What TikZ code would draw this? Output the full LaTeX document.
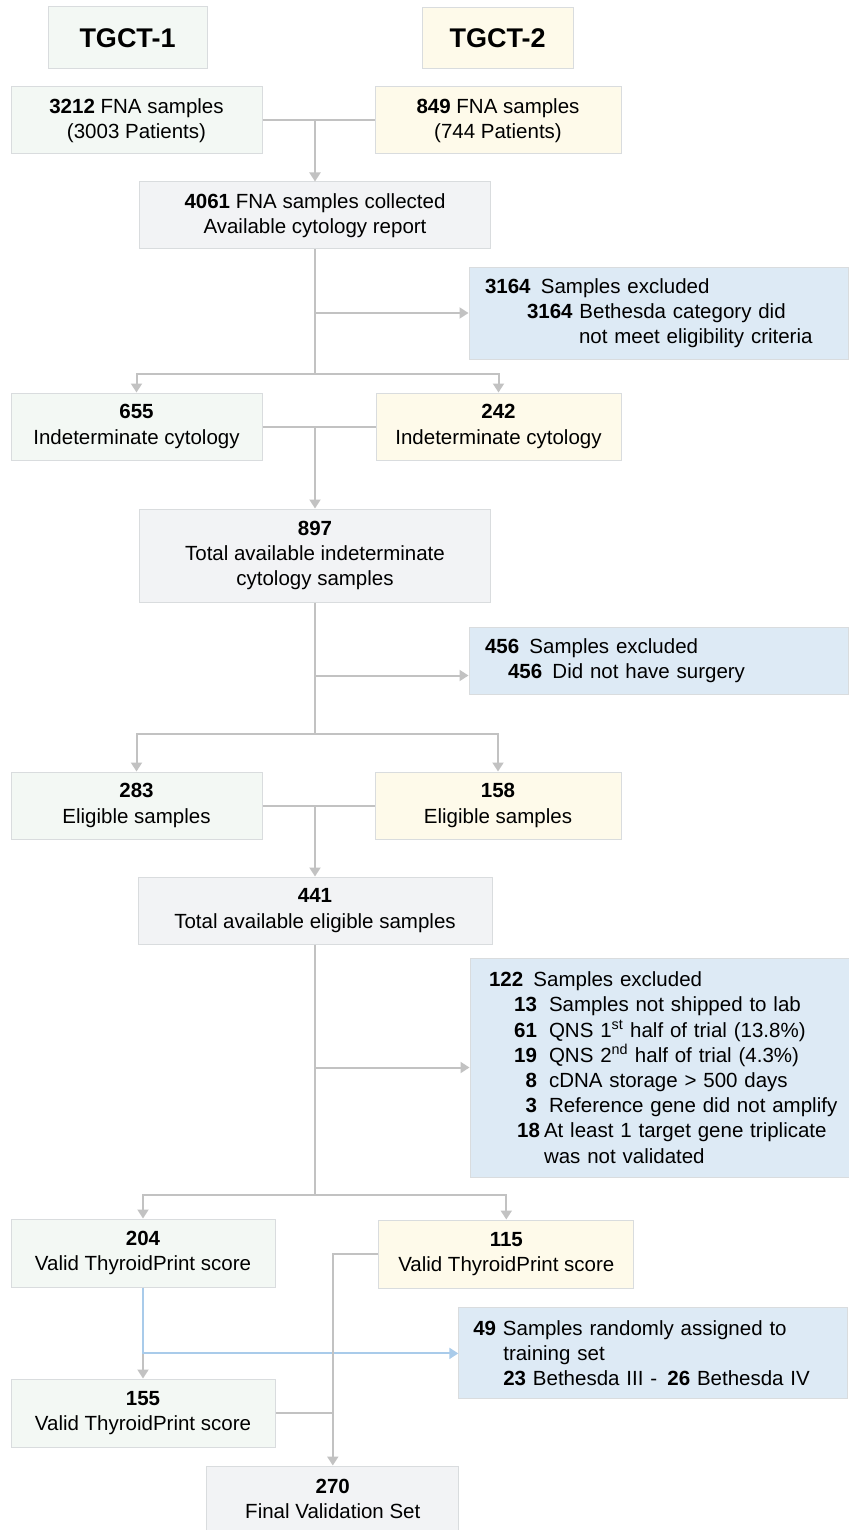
\documentclass[tikz,border=0pt]{standalone}
\usepackage{fontspec}
\setmainfont{Liberation Sans}
\usepackage{tikz}
\usetikzlibrary{arrows.meta,calc,positioning}
\definecolor{grn}{HTML}{F3F8F4}
\definecolor{crm}{HTML}{FEFAEA}
\definecolor{gry}{HTML}{F2F3F5}
\definecolor{blu}{HTML}{DDEAF5}
\definecolor{edge}{HTML}{D9DCDE}
\definecolor{lineg}{HTML}{C2C2C2}
\definecolor{lineb}{HTML}{A9CBEA}

\begin{document}
\begin{tikzpicture}[x=1pt,y=-1pt,
  box/.style={draw=edge,line width=1pt,inner sep=0pt,align=center,font=\fontsize{20.5}{25.2}\selectfont},
  tbox/.style={box,font=\fontsize{27}{30}\selectfont\bfseries},
  xbox/.style={box,fill=blu,align=left,inner xsep=#1},
  con/.style={draw=lineg,line width=2pt},
  arr/.style={con,-{Triangle[width=11pt,length=9pt]}},
  barr/.style={draw=lineb,line width=2pt,-{Triangle[width=11pt,length=9pt]}}]
\useasboundingbox (0,0) rectangle (848,1530);
\node[tbox,fill=grn,minimum width=159,minimum height=62] (t1) at (127.5,38) {TGCT-1};
\node[tbox,fill=crm,minimum width=151,minimum height=61] (t2) at (497.5,38.5) {TGCT-2};
\node[box,fill=grn,minimum width=251,minimum height=67] (a1) at (136.5,120.5) {\textbf{3212} FNA samples\\(3003 Patients)};
\node[box,fill=crm,minimum width=246,minimum height=67] (a2) at (498,120.5) {\textbf{849} FNA samples\\(744 Patients)};
\node[box,fill=gry,minimum width=351,minimum height=67] (m1) at (315,215.5) {\textbf{4061} FNA samples collected\\Available cytology report};
\node[xbox=16pt,text width=347,minimum height=92] (x1) at (658.5,313) {\textbf{3164}\enspace Samples excluded\\\hspace*{42pt}\textbf{3164} Bethesda category did\\\hspace*{94pt}not meet eligibility criteria};
\node[box,fill=grn,minimum width=251,minimum height=67] (b1) at (136.5,426.5) {\textbf{655}\\Indeterminate cytology};
\node[box,fill=crm,minimum width=245,minimum height=67] (b2) at (498.5,426.5) {\textbf{242}\\Indeterminate cytology};
\node[box,fill=gry,minimum width=351,minimum height=93] (m2) at (315,555.5) {\textbf{897}\\Total available indeterminate\\cytology samples};
\node[xbox=16pt,text width=347,minimum height=67] (x2) at (658.5,660.5) {\textbf{456}\enspace Samples excluded\\\hspace*{23pt}\textbf{456}\enspace Did not have surgery};
\node[box,fill=grn,minimum width=251,minimum height=67] (c1) at (136.5,805.5) {\textbf{283}\\Eligible samples};
\node[box,fill=crm,minimum width=246,minimum height=67] (c2) at (498,805.5) {\textbf{158}\\Eligible samples};
\node[box,fill=gry,minimum width=354,minimum height=67] (m3) at (315,910.5) {\textbf{441}\\Total available eligible samples};
\node[xbox=19pt,text width=362,minimum height=219] (x3) at (670,1067.5) {\textbf{122}\enspace Samples excluded\\
  \makebox[48pt][r]{\textbf{13}}\hspace{12pt}Samples not shipped to lab\\
  \makebox[48pt][r]{\textbf{61}}\hspace{12pt}QNS 1\textsuperscript{st} half of trial (13.8\%)\\
  \makebox[48pt][r]{\textbf{19}}\hspace{12pt}QNS 2\textsuperscript{nd} half of trial (4.3\%)\\
  \makebox[48pt][r]{\textbf{8}}\hspace{12pt}cDNA storage > 500 days\\
  \makebox[48pt][r]{\textbf{3}}\hspace{12pt}Reference gene did not amplify\\
  \makebox[51pt][r]{\textbf{18}}\hspace{4pt}At least 1 target gene triplicate\\
  \hspace*{55pt}was not validated};
\node[box,fill=grn,minimum width=264,minimum height=68] (d1) at (143,1253) {\textbf{204}\\Valid ThyroidPrint score};
\node[box,fill=crm,minimum width=255,minimum height=68] (d2) at (506.3,1254) {\textbf{115}\\Valid ThyroidPrint score};
\node[xbox=14.5pt,text width=360,minimum height=91] (x4) at (653.3,1353.4) {\textbf{49} Samples randomly assigned to\\\hspace*{30pt}training set\\\hspace*{30pt}\textbf{23} Bethesda III -\enspace\textbf{26} Bethesda IV};
\node[box,fill=grn,minimum width=264,minimum height=68] (e1) at (143,1413) {\textbf{155}\\Valid ThyroidPrint score};
\node[box,fill=gry,minimum width=252,minimum height=66] (f) at (332.8,1499) {\textbf{270}\\Final Validation Set};
\coordinate (s1) at (315,374.3);
\coordinate (s2) at (315,734);
\coordinate (s3) at (315,1195);
\draw[con] (a1.east) -- (a2.west);
\draw[arr] (a1.east -| m1.north) -- (m1.north);
\draw[con] (m1.south) -- (s1);
\draw[arr] (m1.south |- x1.west) -- (x1.west);
\draw[arr] (s1) -| (b1.north);
\draw[arr] (s1) -| (b2.north);
\draw[con] (b1.east) -- (b2.west);
\draw[arr] (b1.east -| m2.north) -- (m2.north);
\draw[con] (m2.south) -- (s2);
\draw[arr] ([yshift=-15pt]x2.west -| m2.south) -- ([yshift=-15pt]x2.west);
\draw[arr] (s2) -| (c1.north);
\draw[arr] (s2) -| (c2.north);
\draw[con] (c1.east) -- (c2.west);
\draw[arr] (c1.east -| m3.north) -- (m3.north);
\draw[con] (m3.south) -- (s3);
\draw[arr] (m3.south |- x3.west) -- (x3.west);
\draw[arr] (s3) -| (d1.north);
\draw[arr] (s3) -| (d2.north);
\draw[arr] (d1.south) -- (e1.north);
\draw[barr] (d1.south) -- (d1.south |- x4.west) -- (x4.west);
\draw[arr] (d2.west) -- (d2.west -| f.north) -- (f.north);
\draw[con] (e1.east) -- (e1.east -| f.north);
\end{tikzpicture}
\end{document}
